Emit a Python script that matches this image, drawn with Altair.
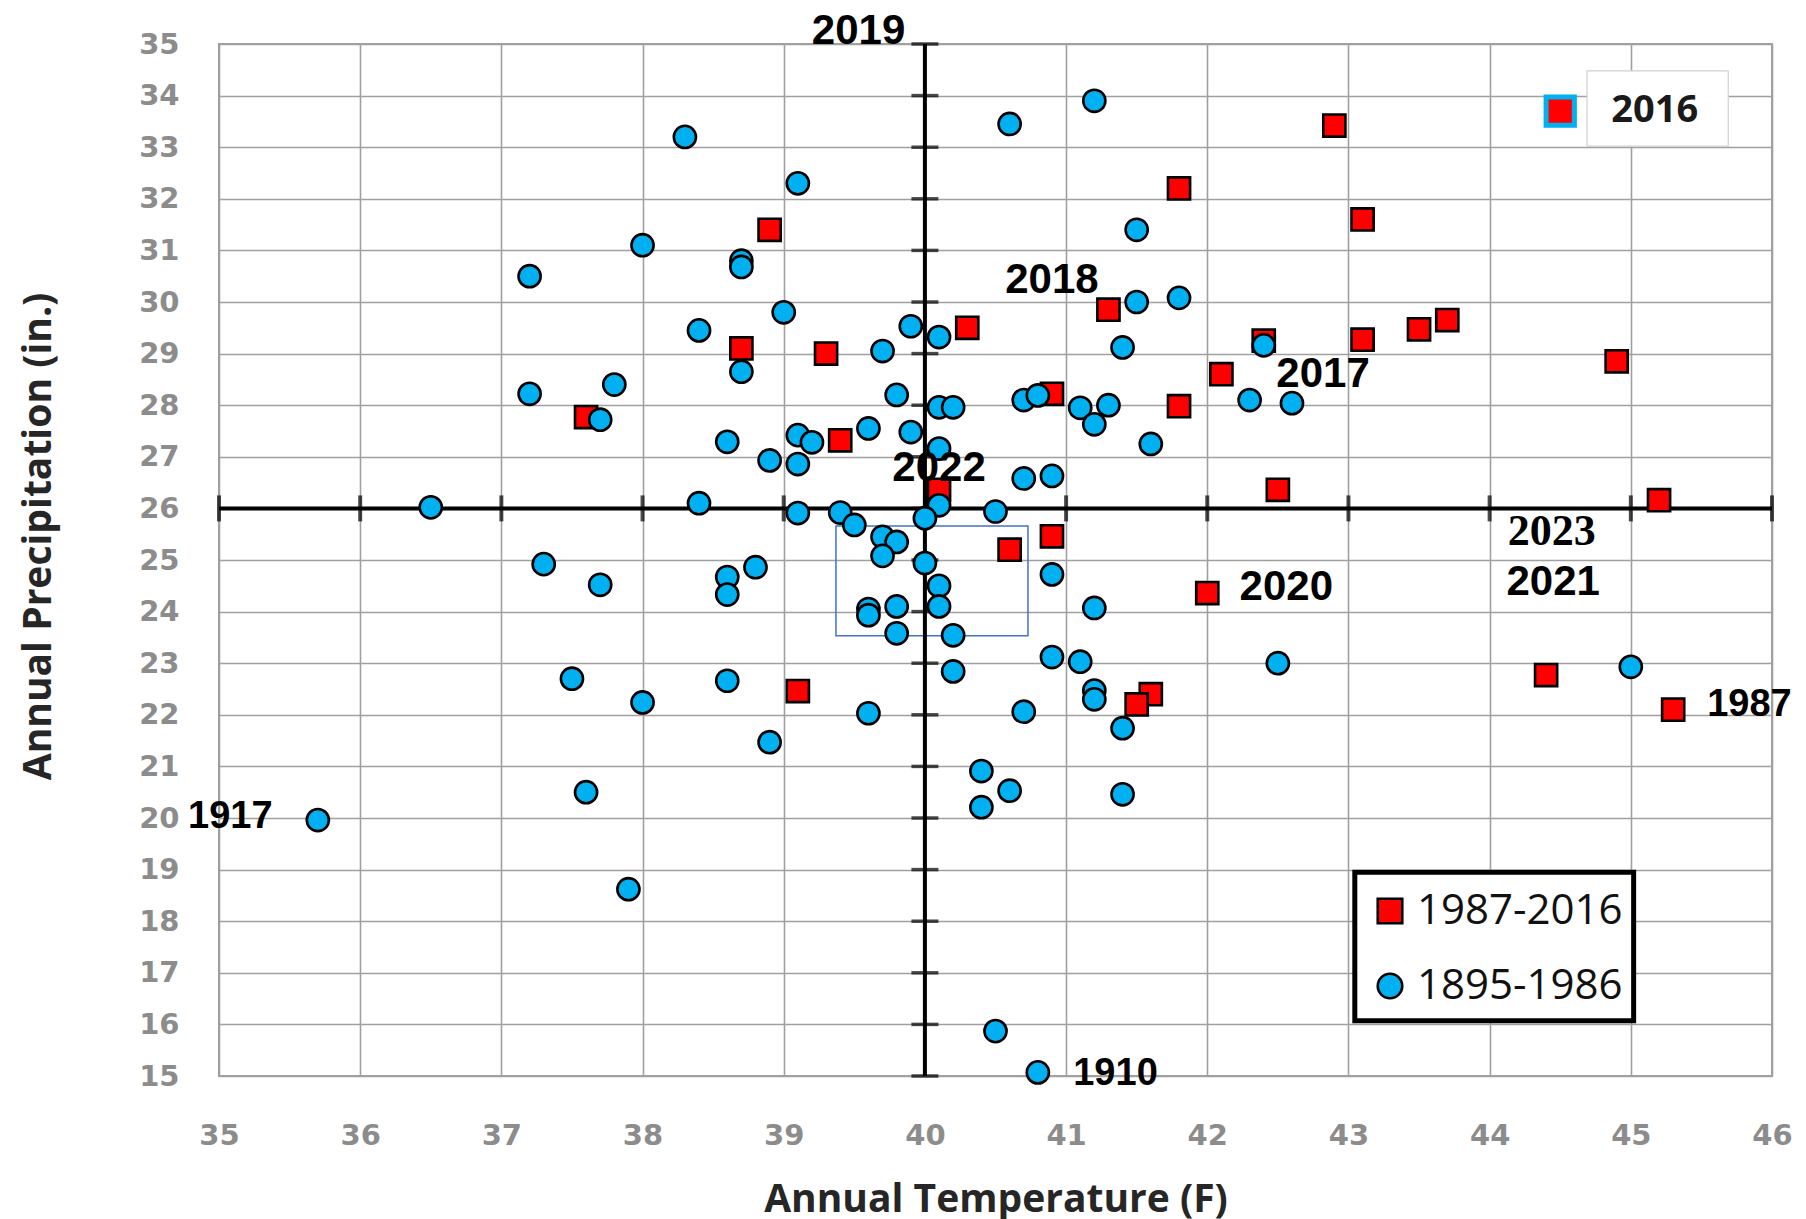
import altair as alt
import pandas as pd

# ---- data ----
# 1895-1986 (blue circles)
early_temp = [37.2, 38.0, 38.3, 39.1, 38.7, 38.7, 39.0, 38.4, 39.7, 39.9,
              40.1, 40.6, 41.2, 41.5, 41.5, 41.8, 41.4, 42.4, 42.3, 42.6,
              41.6, 41.1, 41.3, 41.2, 40.7, 40.8, 40.1, 40.2, 39.8, 39.9,
              39.6, 40.1, 40.7, 40.9, 39.1, 39.2, 38.6, 38.9, 39.1, 37.2,
              37.8, 37.7, 38.7, 38.4, 36.5, 39.1, 39.4, 39.5, 40.1, 40.0,
              40.5, 39.7, 39.8, 39.7, 40.0, 40.1, 40.1, 39.6, 39.6, 39.8,
              39.8, 40.2, 40.2, 37.3, 37.7, 38.6, 38.6, 38.8, 40.9, 41.2,
              37.5, 38.0, 38.6, 38.9, 39.6, 40.7, 40.9, 41.1, 41.2, 41.2,
              41.4, 41.4, 40.4, 40.6, 40.4, 37.6, 35.7, 37.9, 40.5, 40.8,
              42.5, 45.0]
early_precip = [30.5, 31.1, 33.2, 32.3, 30.8, 30.68, 29.8, 29.45, 29.05, 29.53,
                29.32, 33.45, 33.9, 31.4, 30.0, 30.08, 29.12, 29.16, 28.1, 28.04,
                27.25, 27.95, 28.0, 27.63, 28.1, 28.19, 27.96, 27.96, 28.2, 27.48,
                27.55, 27.16, 26.58, 26.63, 27.42, 27.28, 27.29, 26.93, 26.86, 28.22,
                28.4, 27.72, 28.65, 26.1, 26.02, 25.91, 25.92, 25.68, 26.06, 25.81,
                25.94, 25.45, 25.35, 25.08, 24.94, 24.5, 24.1, 24.05, 23.93, 24.1,
                23.58, 23.54, 22.84, 24.92, 24.52, 24.67, 24.33, 24.86, 24.72, 24.07,
                22.7, 22.24, 22.66, 21.47, 22.03, 22.06, 23.12, 23.03, 22.47, 22.3,
                21.74, 20.46, 20.91, 20.53, 20.21, 20.5, 19.96, 18.62, 15.87, 15.07,
                23.0, 22.93]
# 1987-2016 (red squares)
recent_temp = [38.9, 38.7, 39.3, 37.6, 39.4, 40.3, 40.1, 40.9, 40.9, 40.6,
               41.3, 41.8, 41.8, 42.1, 42.4, 42.9, 43.1, 43.1, 43.5, 43.7,
               44.9, 42.5, 45.2, 42.0, 39.1, 41.6, 41.5, 44.4, 45.3]
recent_precip = [31.4, 29.1, 29.0, 27.77, 27.32, 29.5, 26.36, 28.22, 25.46, 25.2,
                 29.85, 32.2, 27.98, 28.6, 29.25, 33.42, 31.6, 29.27, 29.47, 29.65,
                 28.85, 26.36, 26.16, 24.36, 22.46, 22.4, 22.2, 22.77, 22.1]

series_names = ["1987-2016", "1895-1986"]
series_colors = ["#FF0000", "#00B0F0"]
series_shapes = ["square", "circle"]

# cross-hair (long-term means)
cross_temp = [40]
cross_precip = [26]
temp_ticks = list(range(35, 47))
precip_ticks = list(range(15, 36))

# year annotations
big_text = ["2019", "2018", "2017", "2022", "2020", "2021"]
big_temp = [39.53, 40.90, 42.82, 40.10, 42.56, 44.45]
big_precip = [35.26, 30.42, 28.60, 26.78, 24.48, 24.57]
serif_text = ["2023"]
serif_temp = [44.44]
serif_precip = [25.54]
small_text = ["1917", "1910", "1987"]
small_temp = [35.08, 41.35, 45.84]
small_precip = [20.02, 15.04, 22.19]

# highlight rectangle
hl_temp = [39.37]
hl_temp2 = [40.73]
hl_precip = [23.53]
hl_precip2 = [25.66]

# legend frame
leg_temp = [43.045]
leg_temp2 = [45.02]
leg_precip = [16.07]
leg_precip2 = [18.95]

# 2016 key box
key_temp = [44.69]
key_temp2 = [45.69]
key_precip = [33.02]
key_precip2 = [34.48]
key_mark_temp = [44.50]
key_mark_precip = [33.70]
key_label = ["2016"]
key_label_temp = [45.17]
key_label_precip = [33.70]

# ---- frames ----
pts = pd.DataFrame({
    "temp": recent_temp + early_temp,
    "precip": recent_precip + early_precip,
    "period": [series_names[0]] * len(recent_temp) + [series_names[1]] * len(early_temp),
})

xs = alt.Scale(domain=[35, 46], nice=False, zero=False)
ys = alt.Scale(domain=[15, 35], nice=False, zero=False)

x_axis = alt.Axis(values=temp_ticks, title="Annual Temperature (F)", grid=True,
                  gridColor="#A0A0A0", gridWidth=1.6, ticks=False, domain=False,
                  labelFont="DejaVu Sans", labelFontWeight="bold", labelFontSize=29,
                  labelColor="#8C8C8C", labelPadding=45, labelFlush=False, labelOverlap=False,
                  titleFont="Open Sans", titleFontWeight="bold", titleFontSize=39,
                  titleColor="#262626", titleY=123, titleBaseline="middle")
y_axis = alt.Axis(values=precip_ticks, title="Annual Precipitation (in.)", grid=True,
                  gridColor="#A0A0A0", gridWidth=1.6, ticks=False, domain=False,
                  labelFont="DejaVu Sans", labelFontWeight="bold", labelFontSize=29,
                  labelColor="#8C8C8C", labelPadding=40, labelFlush=False, labelOverlap=False,
                  titleFont="Open Sans", titleFontWeight="bold", titleFontSize=39,
                  titleColor="#262626", titleX=-181, titleY=492, titleBaseline="middle")

X = alt.X("temp:Q", scale=xs, axis=x_axis)
Y = alt.Y("precip:Q", scale=ys, axis=y_axis)

grid_layer = alt.Chart(pd.DataFrame({"temp": cross_temp, "precip": cross_precip})).mark_point(opacity=0).encode(x=X, y=Y)

vrule = alt.Chart(pd.DataFrame({"temp": cross_temp})).mark_rule(color="black", strokeWidth=4).encode(x=X)
hrule = alt.Chart(pd.DataFrame({"precip": cross_precip})).mark_rule(color="black", strokeWidth=4).encode(y=Y)

vticks = alt.Chart(pd.DataFrame({"temp": cross_temp * len(precip_ticks), "precip": precip_ticks})).mark_tick(
    orient="horizontal", color="black", size=27, thickness=3.5).encode(x=X, y=Y)
hticks = alt.Chart(pd.DataFrame({"temp": temp_ticks, "precip": cross_precip * len(temp_ticks)})).mark_tick(
    orient="vertical", color="black", size=26, thickness=4).encode(x=X, y=Y)

hl = alt.Chart(pd.DataFrame({"temp": hl_temp, "temp2": hl_temp2, "precip": hl_precip, "precip2": hl_precip2})).mark_rect(
    fillOpacity=0, stroke="#4472C4", strokeWidth=1.5).encode(x=X, x2="temp2:Q", y=Y, y2="precip2:Q")

legbox = alt.Chart(pd.DataFrame({"temp": leg_temp, "temp2": leg_temp2, "precip": leg_precip, "precip2": leg_precip2})).mark_rect(
    fill="white", stroke="black", strokeWidth=5).encode(x=X, x2="temp2:Q", y=Y, y2="precip2:Q")

points = alt.Chart(pts).mark_point(filled=True, opacity=1, stroke="black", strokeWidth=2.6, size=490).encode(
    x=X, y=Y,
    fill=alt.Fill("period:N", scale=alt.Scale(domain=series_names, range=series_colors),
                  legend=alt.Legend(title=None, orient="none", legendX=1150, legendY=846,
                                    direction="vertical", padding=0, labelFontSize=42,
                                    labelFont="Open Sans", labelColor="#111111", labelLimit=0,
                                    symbolSize=600, symbolStrokeColor="black",
                                    symbolStrokeWidth=2.6, rowPadding=33, labelOffset=6)),
    shape=alt.Shape("period:N", scale=alt.Scale(domain=series_names, range=series_shapes)),
)

big = alt.Chart(pd.DataFrame({"temp": big_temp, "precip": big_precip, "t": big_text})).mark_text(
    font="Liberation Sans", fontWeight="bold", fontSize=42, color="black", baseline="middle").encode(x=X, y=Y, text="t:N")
serif = alt.Chart(pd.DataFrame({"temp": serif_temp, "precip": serif_precip, "t": serif_text})).mark_text(
    font="Liberation Serif", fontWeight="bold", fontSize=44, color="black", baseline="middle").encode(x=X, y=Y, text="t:N")
small = alt.Chart(pd.DataFrame({"temp": small_temp, "precip": small_precip, "t": small_text})).mark_text(
    font="Liberation Sans", fontWeight="bold", fontSize=38, color="black", baseline="middle").encode(x=X, y=Y, text="t:N")

keybox = alt.Chart(pd.DataFrame({"temp": key_temp, "temp2": key_temp2, "precip": key_precip, "precip2": key_precip2})).mark_rect(
    fill="white", stroke="#D0D0D0", strokeWidth=1.2).encode(x=X, x2="temp2:Q", y=Y, y2="precip2:Q")
keymark = alt.Chart(pd.DataFrame({"temp": key_mark_temp, "precip": key_mark_precip})).mark_point(
    shape="square", filled=True, fill="#FF0000", stroke="#00B0F0", strokeWidth=5, size=800, opacity=1).encode(x=X, y=Y)
keytext = alt.Chart(pd.DataFrame({"temp": key_label_temp, "precip": key_label_precip, "t": key_label})).mark_text(
    font="Open Sans", fontWeight="bold", fontSize=38, color="#1a1a1a", baseline="middle").encode(x=X, y=Y, text="t:N")

chart = alt.layer(grid_layer, hl, vrule, hrule, vticks, hticks, legbox, points, big, serif, small,
                  keybox, keymark, keytext).properties(
    width=1553, height=1032,
    autosize=alt.AutoSizeParams(type="none"),
    padding={"left": 211, "top": 36, "right": 20, "bottom": 170},
    background="white",
).configure_view(stroke="#A0A0A0", strokeWidth=2)

chart.save("out.html", embed_options={"renderer": "svg", "actions": False})
